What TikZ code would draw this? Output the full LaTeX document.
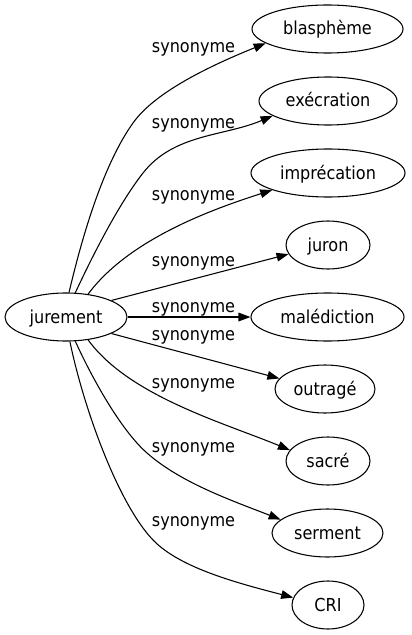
\documentclass[tikz,border=0pt]{standalone}
\usepackage{fontspec}
\setmainfont{DejaVu Sans Condensed}
\usetikzlibrary{shapes.geometric,arrows.meta}
\begin{document}
\begin{tikzpicture}[x=0.75pt,y=-0.75pt,
  word/.style={ellipse,draw,line width=0.8pt,inner sep=0pt,minimum height=36pt,
    text height=10.5pt,text depth=1.5pt,font=\fontsize{13.4}{16}\selectfont},
  rel/.style={line width=0.8pt,-{Triangle[length=9pt,width=6.5pt]}},
  lab/.style={anchor=base,inner sep=0pt,font=\fontsize{13.4}{16}\selectfont}]
\useasboundingbox (0,0) rectangle (411,635);
\node[word,minimum width=91.5pt] (j) at (66,317) {jurement};
\node[word,minimum width=113.25pt] (b) at (327.5,29) {blasphème};
\node[word,minimum width=103.5pt] (e) at (328,101) {exécration};
\node[word,minimum width=115.5pt] (i) at (328,173) {imprécation};
\node[word,minimum width=63pt] (ju) at (328,245) {juron};
\node[word,minimum width=114.75pt] (m) at (327.5,317) {malédiction};
\node[word,minimum width=75pt] (o) at (325,389) {outragé};
\node[word,minimum width=63pt] (s) at (328,461) {sacré};
\node[word,minimum width=83.25pt] (se) at (327.5,533) {serment};
\node[word,minimum width=54pt] (c) at (328,605) {CRI};

\draw[rel] (j.83) .. controls (83,233) and (104,163.5) .. (133,123) .. controls (153,94.6) and (202,69) .. (b.193);
\draw[rel] (j.69) .. controls (92,257) and (118,205) .. (143,173) .. controls (174,133.5) and (224,136.5) .. (e.195);
\draw[rel] (j.46) .. controls (129,239) and (213,209) .. (i.197);
\draw[rel] (j.20) -- (ju.193);
\draw[rel] (j.east) -- (m.west);
\draw[rel] (j.-20) -- (o.167);
\draw[rel] (j.-46) .. controls (129,396) and (223.6,422.7) .. (s.164);
\draw[rel] (j.-69) .. controls (92,378) and (120.75,430) .. (147,453) .. controls (180.75,482.7) and (230.5,500) .. (se.164);
\draw[rel] (j.-81) .. controls (84,409.6) and (118.5,504) .. (153,540) .. controls (180.6,568.8) and (241.5,584) .. (c.168);

\node[lab] (l1) at (193.5,53) {synonyme};
\node[lab] (l2) at (193.5,128) {synonyme};
\node[lab] (l3) at (193.5,200) {synonyme};
\node[lab] (l4) at (193.5,266) {synonyme};
\node[lab] (l5) at (193.5,312) {synonyme};
\node[lab] (l6) at (193.5,340) {synonyme};
\node[lab] (l7) at (193.5,388) {synonyme};
\node[lab] (l8) at (193.5,452) {synonyme};
\node[lab] (l9) at (193.5,526) {synonyme};
\end{tikzpicture}
\end{document}
